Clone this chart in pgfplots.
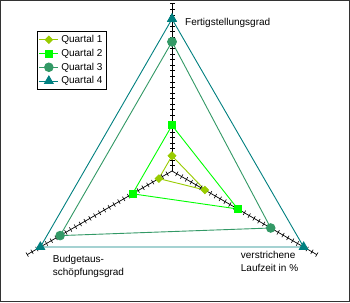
\documentclass[border=0pt]{standalone}
\usepackage{pgfplots}
\pgfplotsset{compat=1.18}
\usepgfplotslibrary{polar}
\usepackage{pgfplotstable}
\usepackage{fontspec}
\setmainfont{Liberation Sans}
\definecolor{qone}{HTML}{99CC00}
\definecolor{qtwo}{HTML}{00FF00}
\definecolor{qthree}{HTML}{339966}
\definecolor{qfour}{HTML}{008080}
\pgfplotstableread{
r
3.667
7.333
11
14.667
18.333
22
25.667
29.333
33
36.667
40.333
44
47.667
51.333
55
58.667
62.333
66
69.667
73.333
77
80.667
84.333
88
91.667
95.333
99
102.667
106.333
110
}\ticktable
\begin{document}
\begin{tikzpicture}[x=1pt,y=1pt]
\path[use as bounding box] (0,0) rectangle (350,302);
\fill[white] (0,0) rectangle (350,302);
\draw[line width=1.4pt, color=black!80] (0.7,0.7) rectangle (349.3,301.3);
\begin{polaraxis}[
  at={(172pt,131pt)}, anchor=center,
  width=334.4pt, height=334.4pt, scale only axis,
  hide axis,
  xmin=0, xmax=360, ymin=0, ymax=110,
  clip=false,
  legend image code/.code={\draw[mark repeat=2,mark phase=2] plot coordinates {(0pt,0pt) (9.5pt,0pt) (19pt,0pt)};},
  legend style={at={(axis cs:133.96,128)}, anchor=north west, draw=black, line width=0.9pt, fill=white,
    font=\fontsize{10}{12}\selectfont, inner sep=1.5pt, row sep=0pt, nodes={inner sep=2.5pt}},
  legend cell align=left,
]
% radial axes
\addplot[black, line width=0.7pt, forget plot] coordinates {(90,0) (90,110)};
\addplot[black, line width=0.7pt, forget plot] coordinates {(330,0) (330,110)};
\addplot[black, line width=0.7pt, forget plot] coordinates {(210,0) (210,110)};
\addplot[black, only marks, mark=-, mark size=2.5pt, mark options={line width=0.6pt}, forget plot] table[x expr=90, y=r] {\ticktable};
\addplot[black, only marks, mark=-, mark size=2.5pt, mark options={line width=0.6pt, rotate=60}, forget plot] table[x expr=330, y=r] {\ticktable};
\addplot[black, only marks, mark=-, mark size=2.5pt, mark options={line width=0.6pt, rotate=120}, forget plot] table[x expr=210, y=r] {\ticktable};
% series
\addplot[qone, line width=0.9pt, mark=square*, mark size=2.6pt, mark options={rotate=45, fill=qone, draw=qone}] coordinates {(90,10) (330,25) (210,10) (90,10)};
\addlegendentry{Quartal 1}
\addplot[qtwo, line width=0.9pt, mark=square*, mark size=3.5pt, mark options={fill=qtwo, draw=qtwo}] coordinates {(90,30) (330,50) (210,30) (90,30)};
\addlegendentry{Quartal 2}
\addplot[qthree, line width=0.9pt, mark=*, mark size=4.3pt, mark options={fill=qthree, draw=qthree}] coordinates {(90,85) (330,75) (210,85) (90,85)};
\addlegendentry{Quartal 3}
\addplot[qfour, line width=0.9pt, mark=triangle*, mark size=5pt, mark options={fill=qfour, draw=qfour}] coordinates {(90,100) (330,100) (210,100) (90,100)};
\addlegendentry{Quartal 4}
\end{polaraxis}
\node[anchor=west, inner sep=0, font=\fontsize{10}{12}\selectfont] at (185,279.5) {Fertigstellungsgrad};
\node[anchor=north west, inner sep=0, align=left, font=\fontsize{10}{13.4}\selectfont] at (52.7,47) {Budgetaus-\\schöpfungsgrad};
\node[anchor=north west, inner sep=0, align=left, font=\fontsize{10}{12.4}\selectfont] at (240.7,50.5) {verstrichene\\Laufzeit in \%};
\end{tikzpicture}
\end{document}
